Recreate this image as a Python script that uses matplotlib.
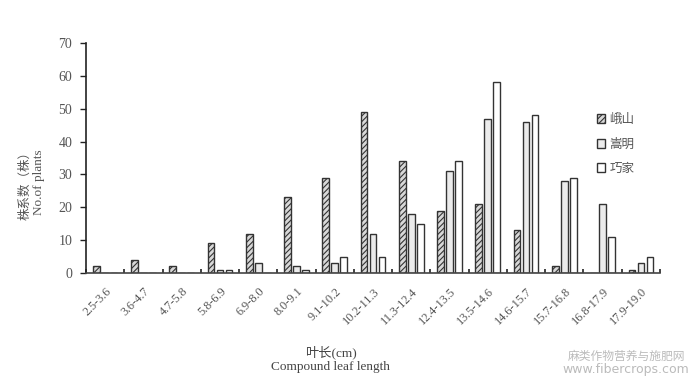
import numpy as np
import matplotlib.pyplot as plt

plt.rcParams['font.family'] = ['Liberation Serif', 'Noto Sans CJK SC']

groups = ["2.5-3.6", "3.6-4.7", "4.7-5.8", "5.8-6.9", "6.9-8.0", "8.0-9.1",
          "9.1-10.2", "10.2-11.3", "11.3-12.4", "12.4-13.5", "13.5-14.6",
          "14.6-15.7", "15.7-16.8", "16.8-17.9", "17.9-19.0"]
eshan = [2, 4, 2, 9, 12, 23, 29, 49, 34, 19, 21, 13, 2, 0, 1]
songming = [0, 0, 0, 1, 3, 2, 3, 12, 18, 31, 47, 46, 28, 21, 3]
qiaojia = [0, 0, 0, 1, 0, 1, 5, 5, 15, 34, 58, 48, 29, 11, 5]
series_names = ["峨山", "嵩明", "巧家"]

fig = plt.figure(figsize=(6.92, 3.80), dpi=100)
ax = fig.add_axes([0.1243, 0.2816, 0.8295, 0.6052])

x = np.arange(len(groups)) + 0.5
w = 0.175
step = 0.235
edge = '#333333'
plt.rcParams['hatch.linewidth'] = 0.8
plt.rcParams['hatch.color'] = '#333333'

ax.bar(x - step, eshan, w, facecolor='#d8d8d8', edgecolor=edge, hatch='//////',
       linewidth=1.0, label=series_names[0])
ax.bar(x, songming, w, facecolor='#ebebeb', edgecolor=edge, linewidth=1.0,
       label=series_names[1])
ax.bar(x + step, qiaojia, w, facecolor='white', edgecolor=edge, linewidth=1.0,
       label=series_names[2])

ax.set_xlim(0, len(groups))
ax.set_ylim(0, 70)
ax.set_yticks(np.arange(0, 71, 10))
ax.set_xticks(np.arange(0, len(groups) + 1))
ax.set_xticklabels([])
ax.set_xticks(x, minor=True)
ax.set_xticklabels(groups, minor=True, rotation=45, ha='right', va='top',
                   rotation_mode='anchor', fontsize=8.8, color='#555555')
ax.tick_params(axis='x', which='minor', length=0, pad=9)
ax.tick_params(axis='x', which='major', direction='in', length=3, width=1.2, color='#222222')
ax.tick_params(axis='y', direction='out', length=4, width=1, color='#222222',
               labelsize=10, labelcolor='#555555', pad=6)

for s in ['top', 'right']:
    ax.spines[s].set_visible(False)
ax.spines['left'].set_color('#222222')
ax.spines['bottom'].set_color('#444444')
ax.spines['left'].set_linewidth(1.2)
ax.spines['bottom'].set_linewidth(1.2)

leg = ax.legend(loc='upper left', bbox_to_anchor=(0.87, 0.74), frameon=False,
                fontsize=9, handlelength=0.7, handleheight=0.7, handletextpad=0.3,
                labelspacing=1.0)
for t in leg.get_texts():
    t.set_color('#555555')

fig.text(0.036, 0.52, "株系数（株）", rotation=90, ha='center', va='center',
         fontsize=9, color='#555555', family=['Noto Sans CJK SC'])
fig.text(0.056, 0.52, "No.of plants", rotation=90, ha='center', va='center',
         fontsize=9.5, color='#555555')
fig.text(0.478, 0.073, "叶长(cm)", ha='center', va='center', fontsize=9.5,
         color='#444444', family=['Liberation Serif', 'Noto Sans CJK SC'])
fig.text(0.478, 0.035, "Compound leaf length", ha='center', va='center', fontsize=9.5,
         color='#444444')

fig.text(0.905, 0.063, "麻类作物营养与施肥网", ha='center', va='center', fontsize=8.5,
         color='#bbbbbb', family=['Noto Sans CJK SC'])
fig.text(0.905, 0.027, "www.fibercrops.com", ha='center', va='center', fontsize=9,
         color='#bbbbbb', family=['DejaVu Sans'])

fig.savefig('out.png', dpi=100)
